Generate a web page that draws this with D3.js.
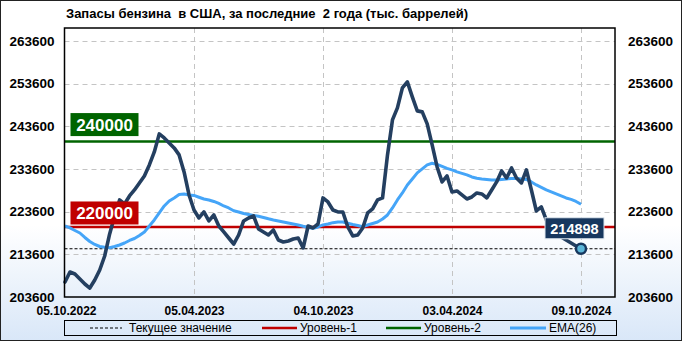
<!DOCTYPE html>
<html>
<head>
<meta charset="utf-8">
<script src="https://cdn.jsdelivr.net/npm/d3@7"></script>
<style>
  body { margin: 0; }
  svg { display: block; font-family: "Liberation Sans", Arial, sans-serif; }
</style>
</head>
<body>
<svg id="chart"></svg>
<script>
// Weekly gasoline stocks, thousand barrels
const stocks = [
  207110, 209450, 208980, 207810, 206640, 205700, 207580, 209920, 213200, 218360,
  222580, 226330, 225390, 227270, 228670, 230310, 231950, 234530, 237580, 241800,
  240860, 239690, 238520, 236880, 232890, 227500, 223980, 222110, 223520, 221410,
  222810, 220230, 218830, 217420, 216010, 218120, 221410, 222110, 222580, 219530,
  218830, 218120, 219300, 216950, 216480, 216720, 217190, 217420, 215080, 220230,
  219770, 220700, 226800, 225860, 223980, 223520, 223520, 220000, 217890, 218120,
  219770, 223280, 224220, 226330, 226800, 236880, 245080, 247890, 252580, 253990,
  250470, 247190, 246960, 244140, 239220, 234060, 230550, 231950, 228200, 228440,
  227500, 226560, 227030, 227970, 227730, 226800, 228670, 230550, 233130, 231480,
  233830, 231480, 230310, 233360, 228670, 223750, 224690, 221640, 219770, 218590,
  217660, 216950, 216250, 215550, 214898
];

// EMA(26) as drawn on the picture
const ema26 = [
  220230, 219770, 219180, 218590, 217540, 216600, 215900, 215430, 215240, 215150,
  215430, 215780, 216250, 216840, 217300, 218010, 218830, 220230, 221640, 223280,
  224920, 226090, 226800, 227620, 227730, 227500, 227380, 226960, 226560, 226330,
  225980, 225510, 224920, 224450, 223800, 223520, 223160, 222930, 222700, 222510,
  222230, 221920, 221640, 221410, 221170, 220940, 220700, 220470, 220160, 219880,
  219690, 220000, 220470, 220700, 221010, 221170, 221170, 220870, 220590, 220350,
  220070, 220470, 220820, 221170, 221870, 222810, 224450, 226330, 227970, 229840,
  231250, 232660, 233590, 234530, 234930, 234650, 234180, 233710, 233360, 232890,
  232540, 232190, 231720, 231410, 231250, 231130, 231020, 231020, 231130, 231250,
  231370, 231370, 231250, 231130, 230550, 229840, 229260, 228670, 228200, 227730,
  227270, 226800, 226450, 225980, 225320
];

const xTickIndex = [0, 26, 52, 78, 104];
const xTickLabels = ["05.10.2022", "05.04.2023", "04.10.2023", "03.04.2024", "09.10.2024"];
const yTicks = [203600, 213600, 223600, 233600, 243600, 253600, 263600];
const level1 = 220000;
const level2 = 240000;
const currentValue = 214898;
const title = "Запасы бензина  в США, за последние  2 года (тыс. баррелей)";
const legendItems = ["Текущее значение", "Уровень-1", "Уровень-2", "EMA(26)"];

const W = 682, H = 341;
const plot = { left: 64.5, right: 615, top: 28, bottom: 297 };

const svg = d3.select("#chart").attr("width", W).attr("height", H);

// background gradient
const grad = svg.append("defs").append("linearGradient")
  .attr("id", "bg").attr("x1", 0).attr("y1", 0).attr("x2", 0).attr("y2", 1);
grad.append("stop").attr("offset", "0%").attr("stop-color", "#ffffff");
grad.append("stop").attr("offset", "66%").attr("stop-color", "#ffffff");
grad.append("stop").attr("offset", "100%").attr("stop-color", "#d9e7f8");

svg.append("rect").attr("x", 0.5).attr("y", 0.5).attr("width", W - 1).attr("height", H - 1)
  .attr("fill", "url(#bg)").attr("stroke", "#222");

// scales
const x = d3.scaleLinear().domain([0, 104]).range([plot.left + 0.5, 581]);
const y = d3.scaleLinear().domain([203600, 266600]).range([plot.bottom, plot.top]);

// title
svg.append("text")
  .attr("x", 66).attr("y", 18)
  .attr("font-size", 13).attr("font-weight", "bold")
  .style("white-space", "pre")
  .attr("fill", "#000")
  .text(title);

// grid
const grid = svg.append("g").attr("stroke", "#c4c4c4").attr("stroke-dasharray", "5,4");
grid.selectAll(".hg").data(yTicks.slice(1)).enter().append("line")
  .attr("x1", plot.left).attr("x2", plot.right)
  .attr("y1", d => Math.round(y(d)) + 0.5).attr("y2", d => Math.round(y(d)) + 0.5);
grid.selectAll(".vg").data(xTickIndex.slice(1)).enter().append("line")
  .attr("x1", d => Math.round(x(d)) + 0.5).attr("x2", d => Math.round(x(d)) + 0.5)
  .attr("y1", plot.top).attr("y2", plot.bottom);

// y axes, both sides
const fmt = d3.format("d");
const yLeft = d3.axisLeft(y).tickValues(yTicks).tickFormat(fmt).tickSize(0).tickPadding(10);
const yRight = d3.axisRight(y).tickValues(yTicks).tickFormat(fmt).tickSize(0).tickPadding(13);
[[yLeft, plot.left], [yRight, plot.right]].forEach(([ax, pos]) => {
  const g = svg.append("g").attr("transform", "translate(" + pos + ",0)").call(ax);
  g.select(".domain").remove();
  g.selectAll("text").attr("font-size", 13.5).attr("font-weight", "bold")
    .attr("font-family", "Liberation Sans, Arial, sans-serif").attr("fill", "#000");
});

// x axis
const xAxis = d3.axisBottom(x).tickValues(xTickIndex)
  .tickFormat((d, i) => xTickLabels[i]).tickSize(0).tickPadding(9);
const gx = svg.append("g").attr("transform", "translate(0," + plot.bottom + ")").call(xAxis);
gx.select(".domain").remove();
gx.selectAll("text").attr("font-size", 12).attr("font-weight", "bold")
  .attr("font-family", "Liberation Sans, Arial, sans-serif").attr("fill", "#000");
gx.selectAll("text").filter((d, i) => i === 0).attr("dx", 1);

// current value dashed line
svg.append("line")
  .attr("x1", plot.left).attr("x2", plot.right)
  .attr("y1", y(currentValue)).attr("y2", y(currentValue))
  .attr("stroke", "#000").attr("stroke-width", 1.2).attr("stroke-dasharray", "3,2");

// level lines
svg.append("line").attr("x1", plot.left).attr("x2", plot.right)
  .attr("y1", y(level1)).attr("y2", y(level1))
  .attr("stroke", "#c00000").attr("stroke-width", 2.5);
svg.append("line").attr("x1", plot.left).attr("x2", plot.right)
  .attr("y1", y(level2)).attr("y2", y(level2))
  .attr("stroke", "#006400").attr("stroke-width", 2.5);

// series lines
const line = d3.line().x((d, i) => x(i)).y(d => y(d));
svg.append("path").datum(ema26).attr("d", line)
  .attr("fill", "none").attr("stroke", "#45a5f8").attr("stroke-width", 3)
  .attr("stroke-linejoin", "round");
svg.append("path").datum(stocks).attr("d", line)
  .attr("fill", "none").attr("stroke", "#243f60").attr("stroke-width", 3.6)
  .attr("stroke-linejoin", "round").attr("stroke-linecap", "round");

// level labels
function levelLabel(value, color, bottomGap) {
  const yb = y(value) - bottomGap;
  svg.append("rect").attr("x", 70.5).attr("y", yb - 23).attr("width", 68).attr("height", 23)
    .attr("fill", color);
  svg.append("text").attr("x", 104.5).attr("y", yb - 5)
    .attr("text-anchor", "middle").attr("font-size", 17).attr("font-weight", "bold")
    .attr("fill", "#fff").text(fmt(value));
}
levelLabel(level2, "#006400", 5.5);
levelLabel(level1, "#c00000", 2.5);

// current value marker and label
const lastX = x(stocks.length - 1), lastY = y(currentValue);
svg.append("rect").attr("x", lastX - 36).attr("y", lastY - 31).attr("width", 59).attr("height", 21)
  .attr("fill", "#17375e").attr("stroke", "#dfe8f0").attr("stroke-width", 1);
svg.append("text").attr("x", lastX - 6.5).attr("y", lastY - 15)
  .attr("text-anchor", "middle").attr("font-size", 14.5).attr("font-weight", "bold")
  .attr("fill", "#fff").text(fmt(currentValue));
svg.append("circle").attr("cx", lastX).attr("cy", lastY).attr("r", 5)
  .attr("fill", "#5cb6d8").attr("stroke", "#17375e").attr("stroke-width", 2.5);

// plot frame
svg.append("rect").attr("x", plot.left).attr("y", plot.top)
  .attr("width", plot.right - plot.left).attr("height", plot.bottom - plot.top)
  .attr("fill", "none").attr("stroke", "#000").attr("stroke-width", 1.5);

// legend
const lg = svg.append("g");
lg.append("rect").attr("x", 64.5).attr("y", 320.5).attr("width", 552).attr("height", 15)
  .attr("fill", "none").attr("stroke", "#000");
const legendMarks = [
  { x1: 90, x2: 122, color: "#000", w: 1.2, dash: "3,2", tx: 129 },
  { x1: 262, x2: 297, color: "#c00000", w: 2.5, dash: null, tx: 300 },
  { x1: 386, x2: 421, color: "#006400", w: 2.5, dash: null, tx: 424 },
  { x1: 510, x2: 546, color: "#45a5f8", w: 3, dash: null, tx: 549 }
];
legendMarks.forEach((m, i) => {
  lg.append("line").attr("x1", m.x1).attr("x2", m.x2).attr("y1", 328).attr("y2", 328)
    .attr("stroke", m.color).attr("stroke-width", m.w)
    .attr("stroke-dasharray", m.dash);
  lg.append("text").attr("x", m.tx).attr("y", 332).attr("font-size", 12)
    .attr("fill", "#000").text(legendItems[i]);
});
</script>
</body>
</html>
